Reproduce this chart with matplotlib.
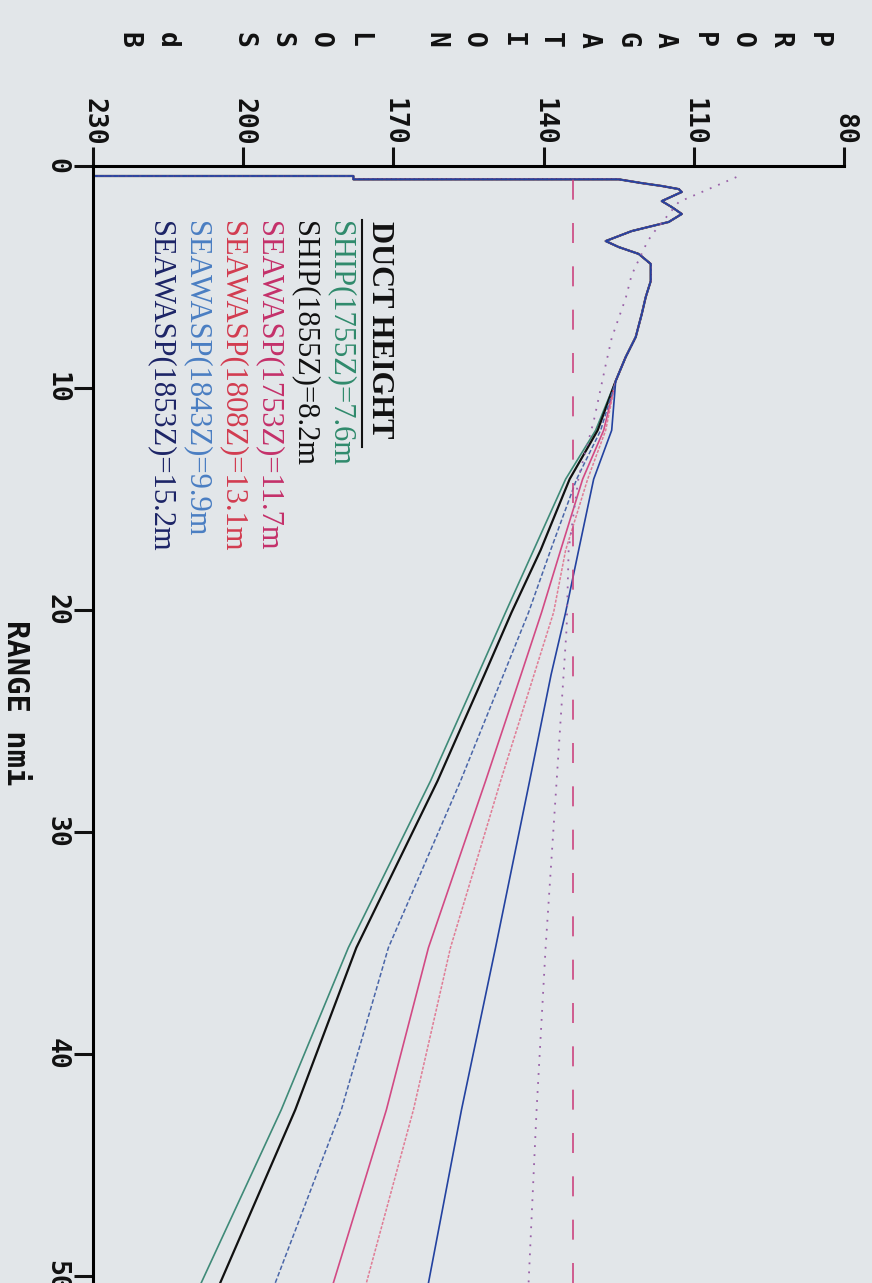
import matplotlib
matplotlib.use("Agg")
import matplotlib.pyplot as plt
import numpy as np

# shared near-range part (range nmi, loss dB) - all duct curves overlap here
near_range = [0.45, 0.45, 0.6, 0.6, 0.77, 0.9, 1.04, 1.17, 1.58, 1.85, 2.16, 2.52,
              2.93, 3.38, 3.65, 3.96, 4.41, 5.18, 5.9, 6.67, 7.7, 8.6, 9.68]
near_loss = [230, 178, 178, 125, 120.4, 116.4, 113, 112.4, 116.4, 114.4, 112.4, 115,
             122.4, 127.6, 125, 121, 118.6, 118.6, 119.6, 120.4, 121.6, 123.6, 125.6]

far_range = [11.9, 14.1, 17.3, 20.1, 22.9, 27.7, 35.2, 42.5, 50.3]
ship_1755 = [129.6, 135.6, 142.0, 147.6, 153.1, 162.6, 179.0, 192.4, 208.4]
ship_1855 = [129.2, 134.8, 140.6, 146.4, 151.8, 161.2, 177.4, 189.6, 204.6]
seawasp_1753 = [128.0, 132.2, 136.6, 140.4, 144.5, 151.6, 163.0, 171.4, 182.0]
seawasp_1808 = [127.6, 131.2, 135.6, 138.0, 141.9, 148.6, 158.6, 166.0, 175.4]
seawasp_1843 = [128.6, 133.4, 138.6, 143.0, 148.0, 156.6, 171.0, 180.4, 193.6]
seawasp_1853 = [126.4, 130.0, 133.0, 135.6, 138.5, 142.8, 149.6, 156.4, 163.0]

# dotted reference curve
ref_range = [0.5, 1.62, 3.1, 3.47, 4.9, 5.95, 6.85, 7.75, 8.96, 10.45, 11.5,
             14.0, 17.3, 20.8, 27.7, 35.2, 42.5, 50.3]
ref_loss = [101.5, 113, 118.4, 119.4, 122.4, 123.6, 125, 126.4, 127.6, 129, 130,
            133.0, 135.0, 135.4, 137.4, 139.6, 141.4, 143.0]

threshold = 134.2

labels = ["SHIP(1755Z)=7.6m", "SHIP(1855Z)=8.2m", "SEAWASP(1753Z)=11.7m",
          "SEAWASP(1808Z)=13.1m", "SEAWASP(1843Z)=9.9m", "SEAWASP(1853Z)=15.2m"]
series = [ship_1755, ship_1855, seawasp_1753, seawasp_1808, seawasp_1843, seawasp_1853]
line_colors = ["#3f8a78", "#111111", "#d24a84", "#e07c95", "#4a66a8", "#2342a0"]
text_colors = ["#2f8a6c", "#111111", "#c4306a", "#d23c50", "#4a7ec2", "#1c2466"]
styles = ["-", "-", "-", (0, (2, 1)), (0, (3, 1.5)), "-"]
widths = [1.2, 1.6, 1.2, 1.1, 1.1, 1.2]

bg = "#e2e6e9"
fig = plt.figure(figsize=(8.72, 12.83), dpi=100, facecolor=bg)
W, H = 872, 1283
ax = fig.add_axes([93 / W, 0, 751 / W, (H - 166) / H], facecolor=bg)

for vals, c, ls, lw in zip(series, line_colors, styles, widths):
    r = list(near_range) + far_range
    l = list(near_loss) + vals
    ax.plot(l, r, color=c, linestyle=ls, linewidth=lw)

ax.plot(ref_loss, ref_range, color="#9a62a8", linestyle=(0, (1, 4)), linewidth=1.3)
ax.axvline(threshold, color="#cc4580", linestyle=(0, (12, 14)), linewidth=1.2)

ax.set_xlim(230, 80)
ax.set_ylim(50.3, 0)
ax.xaxis.tick_top()
ax.set_xticks([230, 200, 170, 140, 110, 80])
ax.set_yticks([0, 10, 20, 30, 40, 50])
for s in ["right", "bottom"]:
    ax.spines[s].set_visible(False)
for s in ["top", "left"]:
    ax.spines[s].set_linewidth(2.2)
ax.tick_params(direction="out", length=14, width=2.2, colors="#111111")
ax.tick_params(axis="x", pad=1)
ax.tick_params(axis="y", pad=3)
tick_font = dict(family="DejaVu Sans Mono", weight="bold", size=19)
for t in ax.get_xticklabels():
    t.set_rotation(-90)
    t.set(**tick_font)
for t in ax.get_yticklabels():
    t.set_rotation(-90)
    t.set_va("center")
    t.set(**tick_font)

# stacked y label letters
ylabel = "PROPAGATION LOSS dB"
for i, ch in enumerate(ylabel):
    if ch == " ":
        continue
    fig.text((818 - i * 38.3) / W, 1 - 40 / H, ch, rotation=-90, ha="center", va="center",
             family="DejaVu Sans Mono", weight="bold", size=19, color="#111111")

fig.text(15 / W, 1 - 703 / H, "RANGE nmi", rotation=-90, ha="center", va="center",
         family="DejaVu Sans Mono", weight="bold", size=22, color="#111111")

# legend block
fig.text(379 / W, 1 - 221 / H, "DUCT HEIGHT", rotation=-90, ha="center", va="top",
         family="Liberation Serif", weight="bold", size=22, color="#111111")
fig.add_artist(plt.Line2D([362 / W, 362 / W], [1 - 220 / H, 1 - 447 / H],
                          transform=fig.transFigure, color="#111111", linewidth=1.5))
for k, (lab, c) in enumerate(zip(labels, text_colors)):
    fig.text((340 - k * 36) / W, 1 - 221 / H, lab, rotation=-90, ha="center", va="top",
             family="Liberation Serif", size=22, color=c)

fig.savefig("out.png", dpi=100, facecolor=bg)
